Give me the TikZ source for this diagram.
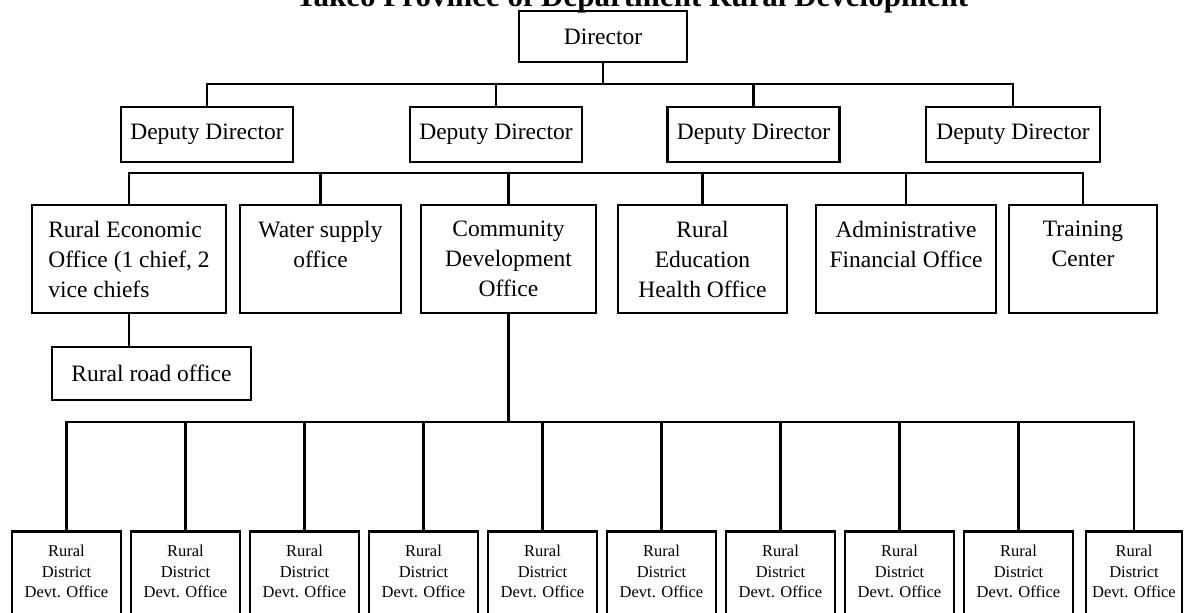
\documentclass[tikz,border=0pt]{standalone}
\usepackage{fontspec}
\setmainfont{Liberation Serif}

\begin{document}
\begin{tikzpicture}[x=0.5pt, y=-0.5pt, line width=1.2pt,
    box/.style={draw, inner sep=0pt, font=\fontsize{11.75}{15}\selectfont},
    office/.style={box, minimum height=54pt, align=center},
    district/.style={box, minimum width=54.5pt, minimum height=50.5pt, align=center,
        font=\fontsize{8.25}{10.25}\selectfont}]
    \useasboundingbox (0,0) rectangle (1184,612);
    \clip (0,0) rectangle (1184,612);

    % title, cut off at the top edge
    \node[anchor=base, inner sep=0pt, font=\fontsize{15.5}{18}\selectfont\bfseries] (title) at (632,6)
        {Takeo Province of Department Rural Development};

    \node[box, minimum width=84pt, minimum height=25.5pt] (dir) at (603,36.5) {Director};

    \coordinate (bus1) at (0,84);
    \node[box, minimum width=86pt, minimum height=27.5pt] (dep1) at (207,134.5) {Deputy Director};
    \node[box, minimum width=86pt, minimum height=27.5pt] (dep2) at (496,134.5) {Deputy Director};
    \node[box, minimum width=86pt, minimum height=27.5pt] (dep3) at (753.5,134.5) {Deputy Director};
    \node[box, minimum width=87pt, minimum height=27.5pt] (dep4) at (1013,134.5) {Deputy Director};

    \draw (dir.south) -- (dir.south |- bus1);
    \draw (dep1.north) |- (dep4.north |- bus1) -- (dep4.north);
    \draw (dep2.north) -- (dep2.north |- bus1);
    \draw (dep3.north) -- (dep3.north |- bus1);

    % offices
    \coordinate (bus2) at (0,173);
    \node[office, minimum width=97pt, align=left] (rec) at (129,259)
        {Rural Economic\\Office (1 chief, 2\\vice chiefs};
    \node[office, minimum width=80.5pt] (water) at (320.5,259) {Water supply\\office\\\mbox{}};
    \node[office, minimum width=87.5pt] (comm) at (508.5,259) {Community\\Development\\Office};
    \node[office, minimum width=84.5pt] (edu) at (702.5,259) {Rural\\Education\\Health Office};
    \node[office, minimum width=90pt] (admin) at (906,259) {Administrative\\Financial Office\\\mbox{}};
    \node[office, minimum width=74pt] (train) at (1083,259) {Training\\Center\\\mbox{}};

    \draw (rec.north) |- (train.north |- bus2) -- (train.north);
    \foreach \o in {water,comm,edu,admin}
        \draw (\o.north) -- (\o.north |- bus2);

    \node[box, minimum width=99.5pt, minimum height=26.5pt] (road) at (151.5,373.5) {Rural road office};
    \draw (rec.south) -- (rec.south |- road.north);

    % district offices
    \coordinate (bus3) at (0,422);
    \foreach \i in {0,...,8}
        \node[district] (rd\i) at ({66.5+119*\i},582) {Rural\\District\\Devt. Office\\\mbox{}};
    \node[district, minimum width=48pt] (rd9) at (1134,582) {Rural\\District\\Devt. Office\\\mbox{}};

    \draw (comm.south) -- (comm.south |- bus3);
    \draw (rd0.north) |- (rd9.north |- bus3) -- (rd9.north);
    \foreach \i in {1,...,8}
        \draw (rd\i.north) -- (rd\i.north |- bus3);
\end{tikzpicture}
\end{document}
